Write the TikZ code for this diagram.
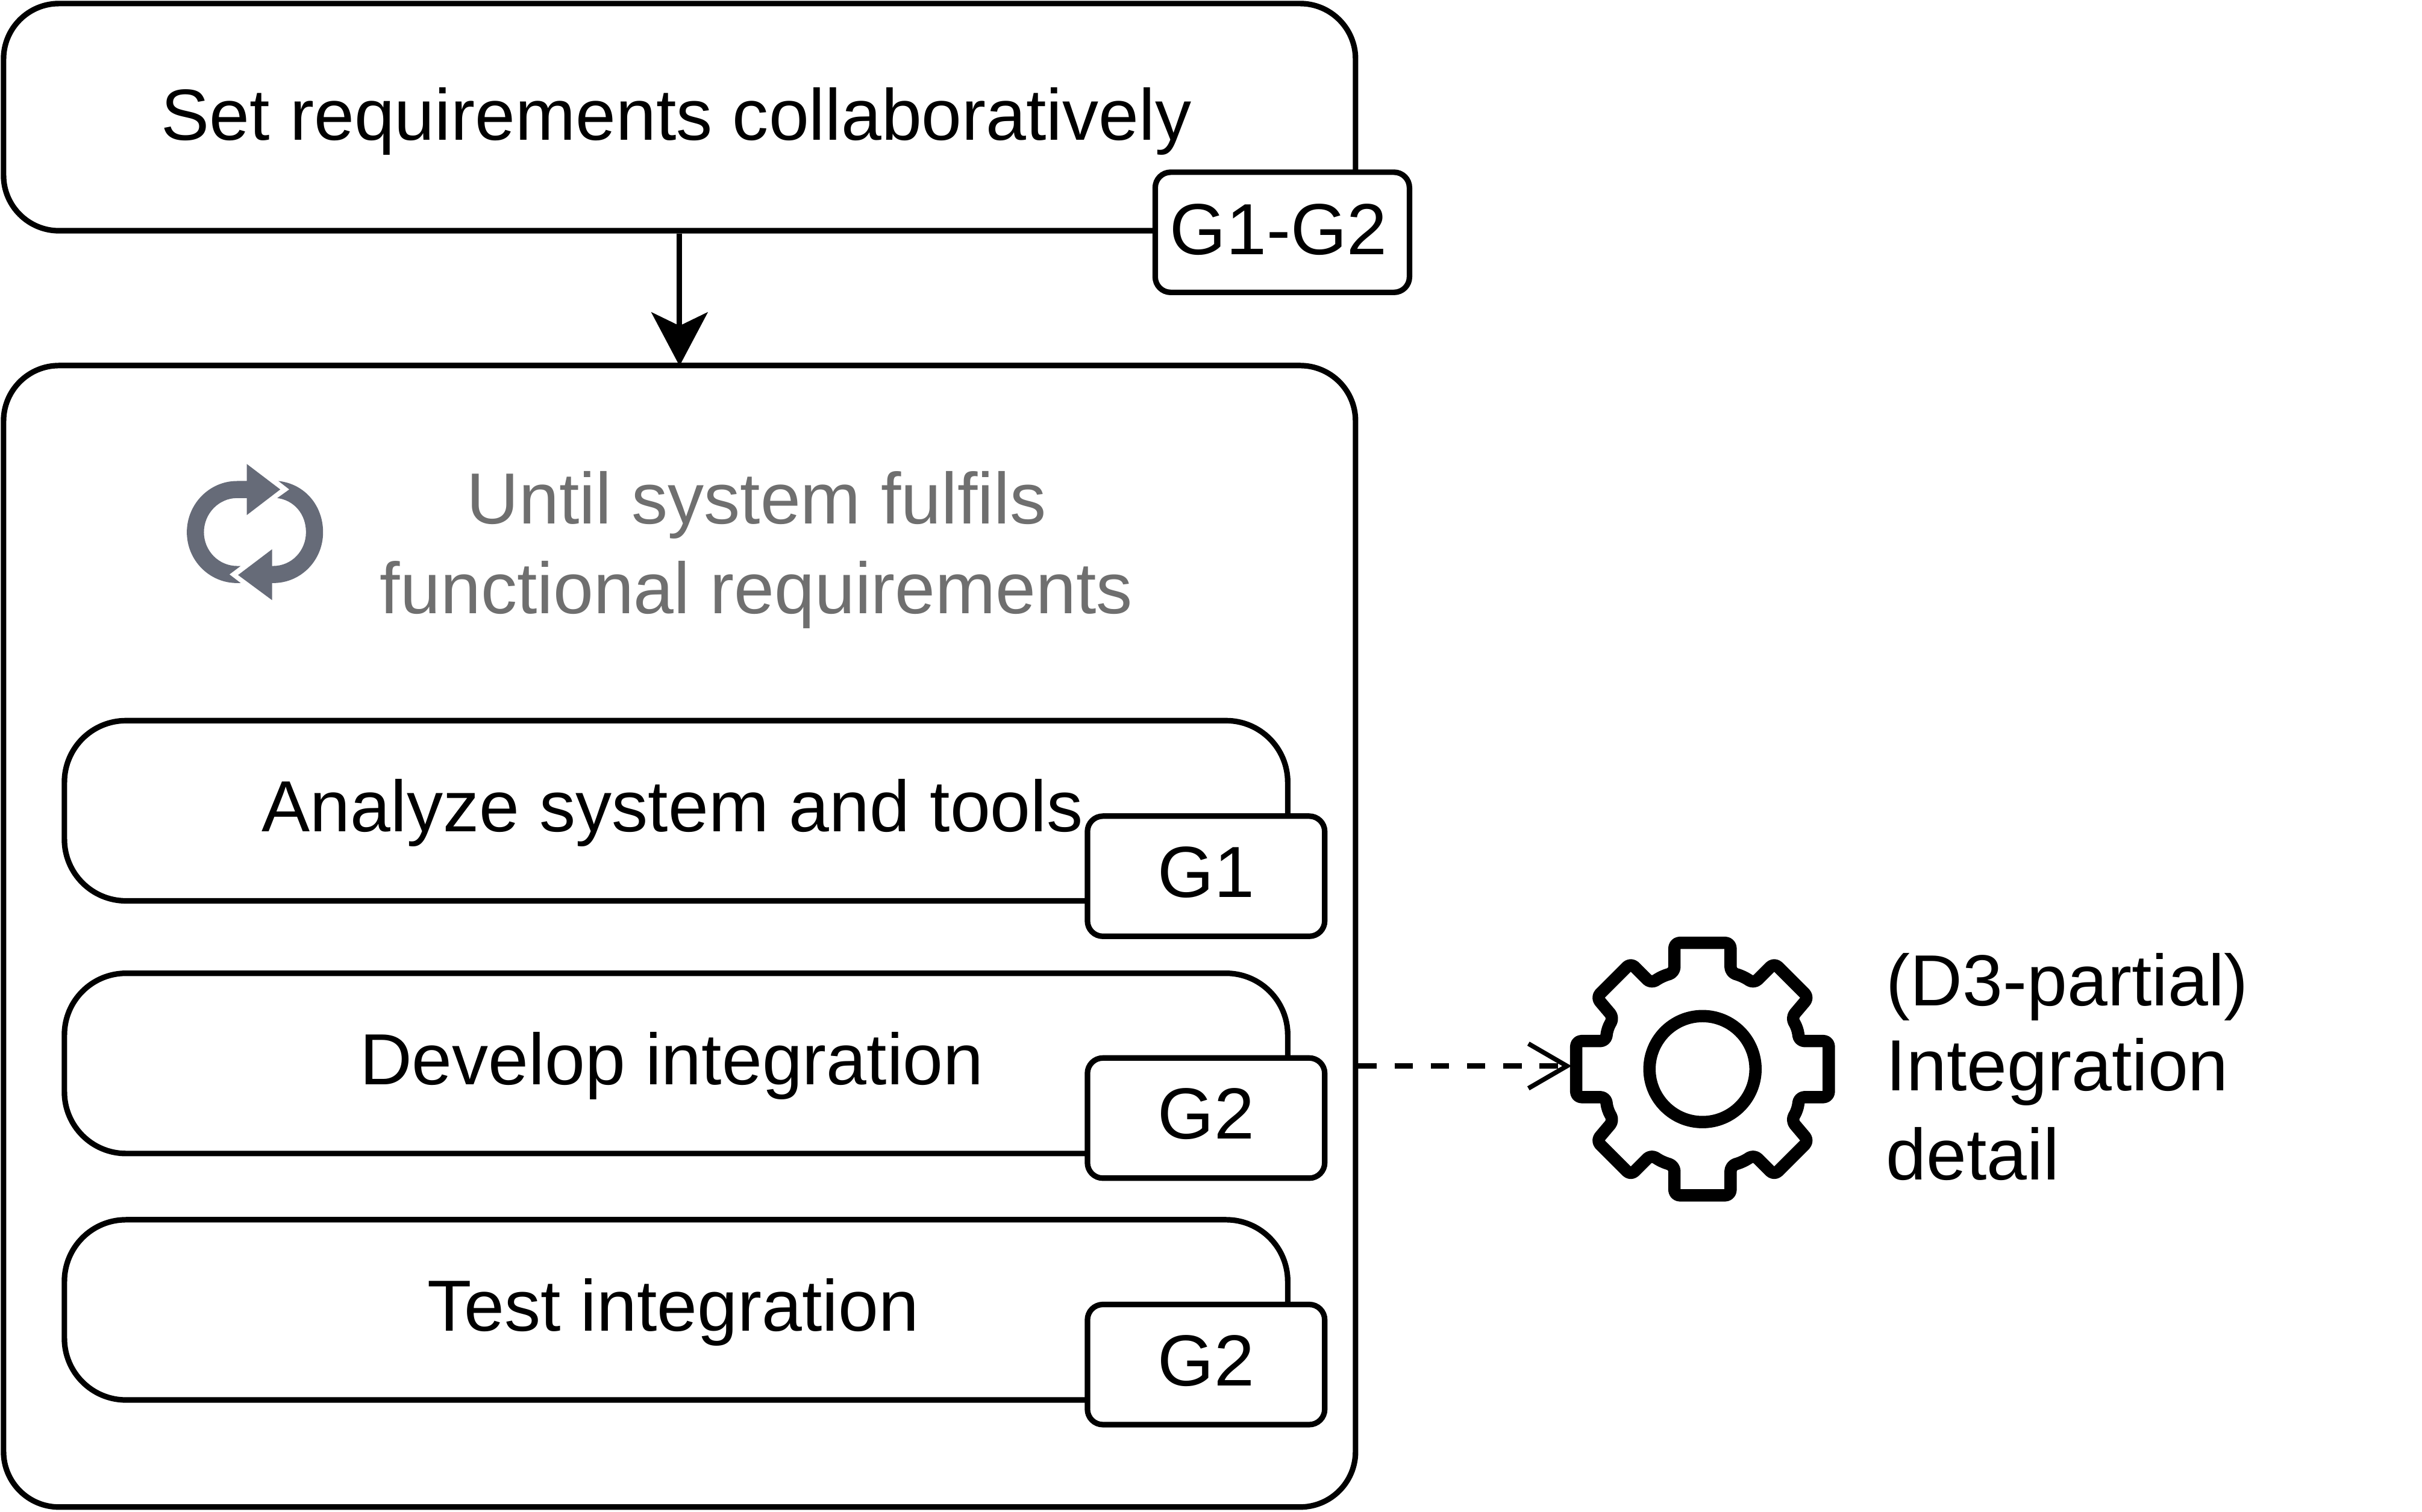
\documentclass[tikz,border=0pt]{standalone}
\usepackage{fontspec}
\setmainfont{Liberation Sans}
\usetikzlibrary{arrows.meta}
\begin{document}
\begin{tikzpicture}[x=1pt,y=-1pt,line width=3.6pt,line join=round,
  mainfont/.style={font=\fontsize{47}{58}\selectfont,inner sep=0pt},
  labeltext/.style={mainfont,anchor=base},
  box/.style={draw=black,rectangle,rounded corners=#1,inner sep=0pt,anchor=north west},
  badge/.style={draw=black,fill=white,rectangle,rounded corners=10pt,inner sep=0pt,mainfont,anchor=north west},
  flow/.style={-{Stealth[length=35pt,width=37pt,inset=9pt,line width=0pt]},shorten >=-2pt},
  dep/.style={dash pattern=on 12pt off 11.5pt,-{Straight Barb[length=25pt,width=29pt,line width=3pt]}},
  iconfill/.style={fill=iconcol,draw=none},
  gearline/.style={line width=8pt,rounded corners=3.5pt}]
\definecolor{iconcol}{HTML}{666B78}
\definecolor{greytext}{HTML}{6F6F6F}
\useasboundingbox (0,0) rectangle (1572,981.5);
\fill[white] (0,0) rectangle (1572,981.5);

% outer boxes
\node[box=36pt,minimum width=877.5pt,minimum height=147.5pt] (setreq) at (0.5,0.5) {};
\node[box=36pt,minimum width=877.5pt,minimum height=741pt] (loop) at (0.5,235.5) {};

% inner boxes
\node[box=40pt,minimum width=794pt,minimum height=117pt] (analyze) at (40,466) {};
\node[box=40pt,minimum width=794pt,minimum height=117pt] (develop) at (40,630) {};
\node[box=40pt,minimum width=794pt,minimum height=117pt] (testb) at (40,790) {};

\node[labeltext] (setreqt) at (439,91) {Set requirements collaboratively};
\node[labeltext] (analyzet) at (436.5,540) {Analyze system and tools};
\node[labeltext] (developt) at (436,704) {Develop integration};
\node[labeltext] (testt) at (437,864) {Test integration};

% badges
\node[badge,minimum width=165pt,minimum height=78pt] (g12) at (748,110) {\raisebox{4pt}{G1-G2\kern5pt}};
\node[badge,minimum width=154pt,minimum height=78pt] (g1) at (704,528) {\raisebox{5.5pt}{G1}};
\node[badge,minimum width=154pt,minimum height=78pt] (g2a) at (704,685) {\raisebox{5.5pt}{G2}};
\node[badge,minimum width=154pt,minimum height=78pt] (g2b) at (704,845) {\raisebox{5.5pt}{G2}};

% loop caption
\node[mainfont,align=center,text=greytext] (until) at (491,357) {Until system fulfils\\functional requirements};

% loop icon
\begin{scope}[shift={(97.8,281.6)},scale=0.1304]
\path[iconfill] (478,235) -- (430,235) .. controls (292,235) and (180,350) .. (180,490) .. controls (180,630) and (292,743) .. (430,743) -- (448,743) -- (392,700) -- (448,658) -- (430,658) .. controls (339,658) and (265,583) .. (265,490) .. controls (265,397) and (339,320) .. (430,320) -- (478,320) -- (478,405) -- (645,277) -- (478,150) -- cycle;
\path[iconfill] (604,658) -- (610,658) .. controls (701,658) and (773,583) .. (773,490) .. controls (773,397) and (711,330) .. (630,320) -- (690,277) -- (636,235) .. controls (770,250) and (858,360) .. (858,490) .. controls (858,630) and (748,743) .. (610,743) -- (604,743) -- (604,828) -- (435,703) -- (604,575) -- cycle;
\end{scope}

% gear
\node[minimum size=170pt,inner sep=0pt] (gear) at (1105,694) {};
\begin{scope}[shift={(1105,694)},scale=1.012]
\draw[gearline] (-18,-81) -- (18,-81) -- (18,-62) -- (26,-59.5) -- (33,-55) -- (46,-68) -- (68,-46) -- (57,-33) -- (61,-26) -- (62,-18) -- (81,-18)
  -- (81,18) -- (62,18) -- (61,26) -- (57,33) -- (68,46) -- (46,68) -- (33,55) -- (26,59.5) -- (18,62) -- (18,81)
  -- (-18,81) -- (-18,62) -- (-26,59.5) -- (-33,55) -- (-46,68) -- (-68,46) -- (-57,33) -- (-61,26) -- (-62,18) -- (-81,18)
  -- (-81,-18) -- (-62,-18) -- (-61,-26) -- (-57,-33) -- (-68,-46) -- (-46,-68) -- (-33,-55) -- (-26,-59.5) -- (-18,-62) -- cycle;
\draw[line width=8pt] (0,0) circle[radius=34];
\end{scope}

\node[mainfont,align=left,anchor=west] (detail) at (1222.5,692.7) {(D3-partial)\\[-3pt]Integration\\detail};

% connectors
\draw[flow] (setreq.south) -- (loop.north);
\coordinate (depend) at (1020,692);
\draw[dep] (loop.east |- depend) -- (depend);
\end{tikzpicture}
\end{document}
